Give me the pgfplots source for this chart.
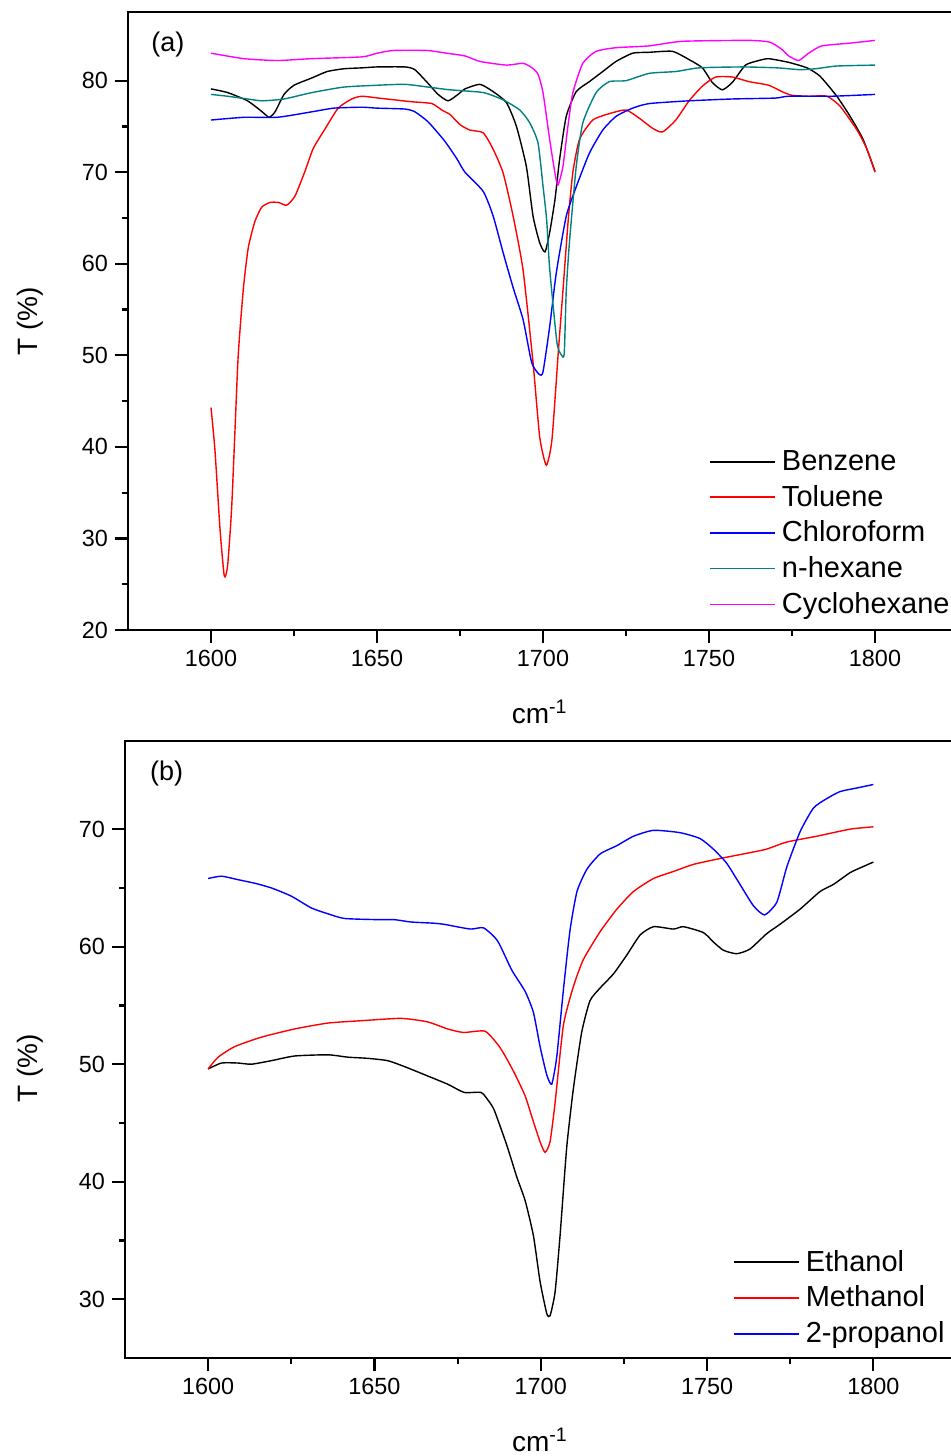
\documentclass[border=0pt]{standalone}
\usepackage{pgfplots}
\pgfplotsset{compat=1.18}
\usepackage{fontspec}
\setmainfont{Liberation Sans}
\definecolor{hexteal}{RGB}{0,128,128}
\definecolor{cyclo}{RGB}{255,0,255}

\pgfplotsset{
  irstyle/.style={
    scale only axis,
    xmin=1575, xmax=1825,
    xtick={1600,1650,...,1800},
    minor x tick num=1,
    minor y tick num=1,
    tick align=outside,
    xtick pos=bottom, ytick pos=left,
    major tick length=6.5pt, minor tick length=3pt,
    axis line style={line width=1.2pt},
    every tick/.style={line width=1.1pt, black},
    tick label style={font=\fontsize{11.7}{14}\selectfont},
    /pgf/number format/assume math mode=true,
    /pgf/number format/1000 sep={},
    label style={font=\fontsize{14}{16}\selectfont},
    xlabel={cm\textsuperscript{-1}},
    ylabel={T (\%)},
    legend cell align=left,
    legend style={draw=none, fill=none, anchor=north west,
      font=\fontsize{14.5}{17}\selectfont, row sep=1.9pt, inner sep=0pt,
      /tikz/every odd column/.append style={column sep=1pt}},
    legend image code/.code={\draw[#1, line width=0.8pt] (0pt,0pt) -- (32.5pt,0pt);},
    every axis plot/.append style={line width=0.7pt, smooth, tension=0.35},
  }
}

\begin{document}
\begin{tikzpicture}
\begin{axis}[irstyle,
  at={(64pt,-6pt)}, anchor=north west,
  width=415pt, height=309pt,
  ymin=20, ymax=87.5, ytick={20,30,...,80},
  xlabel style={at={(axis description cs:0.496,0)}, anchor=center, yshift=-41pt},
  ylabel style={at={(axis description cs:-0.118,0.5)}, anchor=center},
  legend style={at={(rel axis cs:0.700,0.298)}},
]
\addplot[black] coordinates {
(1600,79.1) (1605,78.7) (1611,77.8) (1615.4,76.6) (1617.5,76.0) (1619.3,76.6)
(1622,78.5) (1625,79.5) (1630.4,80.3) (1635,81.0) (1640,81.3) (1645.5,81.4)
(1650,81.5) (1658.4,81.5) (1661.4,81.2) (1665.4,79.7) (1668.4,78.5) (1671.4,77.8)
(1674.4,78.5) (1676.5,79.1) (1681,79.6) (1685,78.8) (1689,77.6) (1692,75.0)
(1695,70.6) (1697,65.2) (1699,62.3) (1700.6,61.3) (1702,63.4) (1703.6,67.0)
(1705,71.4) (1707,76.1) (1710,78.8) (1714,79.9) (1718,81.0) (1722,82.1)
(1727,83.0) (1732,83.1) (1739,83.2) (1744,82.3) (1748,81.4) (1751,79.8)
(1754,79.0) (1757,79.8) (1761,81.7) (1765,82.2) (1768,82.4) (1774,82.0)
(1779.5,81.4) (1783.4,80.5) (1788.5,78.3) (1792.5,76.1) (1796.4,73.6) (1800,70.1)
};
\addlegendentry{Benzene}
\addplot[red] coordinates {
(1600,44.3) (1601.2,39.6) (1602.7,31.1) (1604,25.9) (1605,27.0) (1606.2,33.2)
(1607.2,41.6) (1608.2,50.0) (1609.7,57.1) (1611.2,61.7) (1613.2,64.6) (1615.3,66.2)
(1617.8,66.7) (1620.3,66.7) (1622.8,66.4) (1625.3,67.4) (1628.3,70.1) (1630.8,72.6)
(1634.3,74.7) (1638.3,77.0) (1642.4,78.0) (1645.4,78.3) (1650.4,78.1) (1655.4,77.9)
(1660.4,77.7) (1666.5,77.5) (1669.5,76.8) (1672,76.3) (1675,75.2) (1678,74.6)
(1682,74.3) (1685,72.5) (1688,69.9) (1691,65.2) (1694,59.3) (1697,49.2)
(1699,41.1) (1701,38.0) (1702.7,40.8) (1704.6,50.3) (1706.1,57.5) (1707.6,64.8)
(1709,70.0) (1711,73.6) (1715,75.7) (1720,76.4) (1725,76.8) (1729,75.9)
(1733,74.8) (1736,74.4) (1740,75.7) (1744,77.8) (1748,79.4) (1752,80.4)
(1757,80.4) (1762,79.9) (1768,79.5) (1772,78.8) (1775,78.4) (1780,78.3)
(1785.5,78.3) (1789.5,77.2) (1794.6,74.6) (1797.6,72.5) (1800,70.0)
};
\addlegendentry{Toluene}
\addplot[blue] coordinates {
(1600,75.7) (1610,76.0) (1620,76.0) (1630.4,76.6) (1637,77.0) (1645.5,77.1)
(1650,77.0) (1658.4,76.9) (1661.4,76.6) (1665.4,75.5) (1670.4,73.4) (1674,71.5)
(1676.5,70.0) (1682,67.9) (1685,65.2) (1688,61.2) (1691,57.4) (1694,53.9)
(1696.6,49.2) (1698.9,47.9) (1700,48.2) (1702,53.1) (1704,59.0) (1707,65.2)
(1710,68.4) (1714,72.1) (1718,74.6) (1722,76.1) (1727,77.0) (1732,77.5)
(1744,77.8) (1757,78.0) (1770,78.1) (1774,78.3) (1787,78.3) (1800,78.5)
};
\addlegendentry{Chloroform}
\addplot[hexteal] coordinates {
(1600,78.5) (1605,78.3) (1611,78.0) (1615.4,77.8) (1622,78.0) (1630.4,78.7)
(1640,79.3) (1650,79.5) (1658.4,79.6) (1665.4,79.3) (1672,79.0) (1682,78.7)
(1688,77.9) (1693,76.8) (1696,75.4) (1698.5,73.2) (1700,68.5) (1701.1,64.8)
(1702,59.5) (1704.2,51.4) (1705.6,50.0) (1706.4,50.2) (1707,57.0) (1708,62.5)
(1710,70.6) (1712,75.4) (1716,78.7) (1720,79.9) (1725,80.0) (1732,80.8)
(1740,81.0) (1747,81.4) (1760,81.5) (1770.5,81.4) (1777.4,81.2) (1782,81.3)
(1788.5,81.6) (1800,81.7)
};
\addlegendentry{n-hexane}
\addplot[cyclo] coordinates {
(1600,83.0) (1610,82.4) (1620,82.2) (1630,82.4) (1645.5,82.6) (1650,83.0)
(1655,83.3) (1665,83.3) (1671,83.0) (1676.5,82.7) (1681,82.1) (1689,81.7)
(1694,81.9) (1696.7,81.4) (1698.5,80.7) (1700,78.7) (1702,73.6) (1703.6,69.9)
(1704.5,68.6) (1706,70.6) (1707.5,75.0) (1709,78.7) (1712,81.9) (1716,83.2)
(1722,83.6) (1732,83.8) (1742,84.3) (1762,84.4) (1768.4,84.2) (1772,83.4)
(1774,82.7) (1777,82.2) (1780,83.0) (1784,83.8) (1792.5,84.1) (1800,84.4)
};
\addlegendentry{Cyclohexane}
\node[font=\fontsize{13.5}{16}\selectfont] at (rel axis cs:0.048,0.947) {(a)};
\end{axis}

\begin{axis}[irstyle,
  at={(62.5pt,-370.5pt)}, anchor=north west,
  width=415.75pt, height=308.5pt,
  ymin=25, ymax=77.5, ytick={30,40,...,70},
  xlabel style={at={(axis description cs:0.499,0)}, anchor=center, yshift=-41pt},
  ylabel style={at={(axis description cs:-0.114,0.47)}, anchor=center},
  legend style={at={(rel axis cs:0.731,0.182)}},
]
\addplot[black] coordinates {
(1600,49.6) (1604,50.1) (1609,50.1) (1613,50.0) (1619,50.3) (1626,50.7)
(1636,50.8) (1642,50.6) (1648,50.5) (1654,50.3) (1659,49.8) (1666,49.0)
(1672,48.3) (1677,47.6) (1682,47.6) (1684,47.0) (1686,46.1) (1689.8,43.1)
(1692.8,40.4) (1695.3,38.4) (1697.8,35.4) (1699.8,31.5) (1701.8,28.8) (1702.8,28.6)
(1704.3,30.6) (1705.8,35.4) (1707.8,42.9) (1709.8,47.9) (1712.3,52.7) (1714.8,55.4)
(1717.9,56.5) (1721.9,57.7) (1725.9,59.3) (1729.9,61.0) (1733.9,61.7) (1739.9,61.5)
(1742.9,61.7) (1748.9,61.2) (1751.9,60.4) (1754.9,59.7) (1758.9,59.4) (1762.9,59.8)
(1767.9,61.1) (1771.9,61.9) (1778,63.2) (1784,64.7) (1788,65.3) (1793,66.3)
(1796,66.7) (1800,67.2)
};
\addlegendentry{Ethanol}
\addplot[red] coordinates {
(1600,49.6) (1603,50.6) (1608,51.5) (1616,52.3) (1626,53.0) (1636,53.5)
(1646,53.7) (1658,53.9) (1666,53.6) (1672,53.0) (1676.8,52.7) (1683.3,52.8)
(1687.8,51.4) (1691.8,49.4) (1695.3,47.3) (1697.8,45.1) (1699.8,43.4) (1701.3,42.5)
(1702.8,43.4) (1704.3,46.7) (1706.8,53.3) (1709.8,56.6) (1712.8,58.9) (1717.9,61.3)
(1722.9,63.2) (1727.9,64.7) (1733.9,65.8) (1739.9,66.4) (1745.9,67.0) (1753.9,67.5)
(1762.9,68.0) (1767.9,68.3) (1773.9,68.9) (1783,69.4) (1793,70.0) (1800,70.2)
};
\addlegendentry{Methanol}
\addplot[blue] coordinates {
(1600,65.8) (1604,66.0) (1609,65.7) (1614,65.4) (1619,65.0) (1625,64.3)
(1631,63.3) (1636,62.8) (1641,62.4) (1651,62.3) (1656,62.3) (1661,62.1)
(1667.7,62.0) (1671,61.9) (1678.8,61.5) (1682.8,61.6) (1687,60.5) (1691.3,58.0)
(1695.3,56.2) (1697.8,54.4) (1699.8,51.5) (1701.8,49.1) (1703.3,48.3) (1704.8,50.6)
(1706.8,56.3) (1708.8,61.4) (1710.9,64.7) (1713.9,66.6) (1717.9,67.9) (1722.9,68.6)
(1727.9,69.4) (1733.9,69.9) (1741.9,69.7) (1747.9,69.2) (1751.9,68.3) (1755.9,67.1)
(1759.9,65.3) (1763.9,63.5) (1767.3,62.7) (1771,63.8) (1774,66.8) (1778,69.8)
(1782,71.8) (1786,72.6) (1790,73.2) (1795,73.5) (1800,73.8)
};
\addlegendentry{2-propanol}
\node[font=\fontsize{13.5}{16}\selectfont] at (rel axis cs:0.05,0.948) {(b)};
\end{axis}
\pgfresetboundingbox
\useasboundingbox (0pt,0pt) rectangle (475pt,-728pt);
\end{tikzpicture}
\end{document}
